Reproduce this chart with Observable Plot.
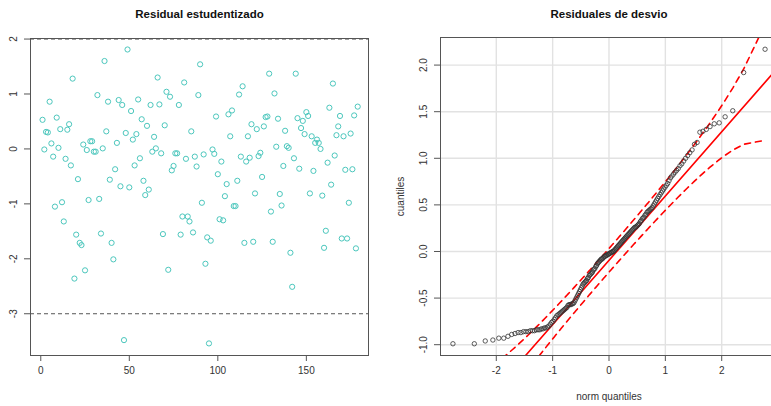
<!DOCTYPE html>
<html>
<head>
<meta charset="utf-8">
<script src="https://cdn.jsdelivr.net/npm/d3@7"></script>
<script src="https://cdn.jsdelivr.net/npm/@observablehq/plot@0.6"></script>
<style>
  html, body { margin: 0; padding: 0; background: #fff; }
  #fig { position: relative; width: 771px; height: 406px; overflow: hidden; background: #fff; }
  #izq { position: absolute; left: 0; top: 0; width: 385px; }
  #der { position: absolute; left: 385px; top: 0; width: 400px; }
  #fig svg { max-width: none !important; display: block; }
</style>
</head>
<body>
<div id="fig"><div id="izq"></div><div id="der"></div></div>
<script>
// Residuos estudentizados, en el orden de las observaciones (1..n)
const residualEstudentizado = [
  0.53, -0.01, 0.31, 0.30, 0.86, 0.10, -0.14, -1.05, 0.57, 0.02,
  0.36, -0.97, -1.32, -0.18, 0.35, 0.45, -0.30, 1.28, -2.36, -1.56,
  -0.55, -1.71, -1.75, 0.08, -2.21, -0.02, -0.93, 0.14, 0.14, -0.05,
  -0.05, 0.98, -0.91, -1.54, 0.01, 1.60, 0.32, 0.86, -0.56, -1.71,
  -2.01, -0.37, 0.11, 0.89, -0.68, 0.80, -3.48, 0.29, 1.81, -0.70,
  0.69,
  0.17, -0.30, 0.27, 0.90, -0.17, 0.54, -0.58, -0.84, 0.42, -0.74,
  0.80, -0.05, 0.22, 0.01, 1.30, 0.81, -0.08, -1.55, 0.43, 1.04,
  -2.20, 0.95, -0.39, -0.31, -0.08, -0.08, 0.80, -1.56, -1.23, 1.21,
  -0.18, -1.23, -1.32, 0.32, -1.52, -0.14, -0.32, 0.98, 1.54, -0.98,
  -0.10, -2.09, -1.61, -3.54, -1.67, -0.01, -0.09, 0.59, -0.46, -1.28,
  -0.23, -1.30, -0.86, -0.64,
  0.63, 0.23, 0.70, -1.04, -1.04, -0.58, 0.99, -0.14, 1.14, -1.71,
  -0.23, 0.23, -0.16, 0.45, -1.69, -0.81, 0.36, -0.13, -0.07, -0.51,
  0.41, 0.58, 0.59, 1.37, -1.14, -1.69, 1.01, 0.04, 0.55, -0.82,
  -1.03, -0.31, 0.33, 0.05, 0.02, -1.89, -2.51, -0.17, 1.37, 0.56,
  -0.36, 0.38, 0.51, 0.27, 0.67, 0.60, -0.81, 0.23, -0.40, 0.11,
  0.17, 0.11, 0.00,
  -0.85, -1.80, -1.49, -0.25, 0.75, -0.65, 1.19, -0.12, 0.25, 0.41,
  0.60, -1.63, 0.23, -0.38, -1.63, -0.98, 0.28, -0.37, 0.61, -1.81,
  0.77
];

// Residuos de desvío ordenados (cuantiles muestrales)
const residualesDesvio = [
  -0.99, -0.99, -0.96, -0.95, -0.93, -0.93, -0.91, -0.89, -0.88, -0.87,
  -0.87, -0.86, -0.86, -0.86, -0.85, -0.85, -0.85, -0.84, -0.84, -0.84,
  -0.83, -0.83, -0.82, -0.82, -0.81, -0.80, -0.78, -0.76, -0.75, -0.73,
  -0.71, -0.69, -0.68, -0.67, -0.66, -0.65, -0.64, -0.63, -0.62, -0.61,
  -0.60, -0.58, -0.57, -0.57, -0.57, -0.56, -0.56, -0.55, -0.53, -0.51,
  -0.49, -0.47, -0.45, -0.43, -0.41, -0.39, -0.37, -0.35, -0.34, -0.33,
  -0.32, -0.31, -0.29, -0.28, -0.26, -0.25, -0.24, -0.23, -0.22, -0.20,
  -0.19, -0.18, -0.16, -0.15, -0.13, -0.12, -0.11, -0.10, -0.09, -0.08,
  -0.08, -0.07, -0.06, -0.05, -0.05, -0.04, -0.04, -0.03, -0.03, -0.02,
  -0.02, -0.01, -0.01, 0.00, 0.00, 0.01, 0.02, 0.03, 0.04, 0.05,
  0.06, 0.07, 0.08, 0.09, 0.10, 0.11, 0.12, 0.13, 0.14, 0.15,
  0.16, 0.17, 0.18, 0.19, 0.20, 0.21, 0.22, 0.23, 0.24, 0.25,
  0.26, 0.26, 0.27, 0.28, 0.29, 0.30, 0.32, 0.33, 0.35, 0.36,
  0.37, 0.39, 0.40, 0.42, 0.43, 0.44, 0.45, 0.46, 0.47, 0.49,
  0.51, 0.53, 0.55, 0.57, 0.59, 0.61, 0.63, 0.65, 0.67, 0.69,
  0.71, 0.73, 0.76, 0.79, 0.81, 0.83, 0.85, 0.87, 0.89, 0.92,
  0.94, 0.97, 1.00, 1.03, 1.06, 1.09, 1.15, 1.17, 1.28, 1.29,
  1.31, 1.34, 1.37, 1.38, 1.445, 1.51, 1.92, 2.17
];

// Marcas de los ejes
const ticksIndice = [0, 50, 100, 150];
const ticksEstud = [-3, -2, -1, 0, 1, 2];
const lineasLimite = [-3, 2];
const ticksNormal = [-2, -1, 0, 1, 2];
const ticksDesvio = [-1, -0.5, 0, 0.5, 1, 1.5, 2];

// Recta de referencia del gráfico QQ y nivel de la banda de confianza
const rectaOrdenada = -0.095;
const rectaPendiente = 0.69;
const zConfianza = 1.96;

const fuente = "Liberation Sans, Arial, Helvetica, sans-serif";
const centrado = { textAnchor: "middle", lineAnchor: "middle" };

// Cuantil y densidad de la normal estándar
function qnorm(p) {
  const a = [-3.969683028665376e+01, 2.209460984245205e+02, -2.759285104469687e+02, 1.383577518672690e+02, -3.066479806614716e+01, 2.506628277459239e+00];
  const b = [-5.447609879822406e+01, 1.615858368580409e+02, -1.556989798598866e+02, 6.680131188771972e+01, -1.328068155288572e+01];
  const c = [-7.784894002430293e-03, -3.223964580411365e-01, -2.400758277161838e+00, -2.549732539343734e+00, 4.374664141464968e+00, 2.938163982698783e+00];
  const d = [7.784695709041462e-03, 3.224671290700398e-01, 2.445134137142996e+00, 3.754408661907416e+00];
  const pl = 0.02425, ph = 1 - pl;
  if (p < pl) {
    const q = Math.sqrt(-2 * Math.log(p));
    return (((((c[0]*q+c[1])*q+c[2])*q+c[3])*q+c[4])*q+c[5]) / ((((d[0]*q+d[1])*q+d[2])*q+d[3])*q+1);
  }
  if (p > ph) {
    const q = Math.sqrt(-2 * Math.log(1 - p));
    return -(((((c[0]*q+c[1])*q+c[2])*q+c[3])*q+c[4])*q+c[5]) / ((((d[0]*q+d[1])*q+d[2])*q+d[3])*q+1);
  }
  const q = p - 0.5, r = q * q;
  return (((((a[0]*r+a[1])*r+a[2])*r+a[3])*r+a[4])*r+a[5])*q / (((((b[0]*r+b[1])*r+b[2])*r+b[3])*r+b[4])*r+1);
}
const dnorm = z => Math.exp(-z * z / 2) / Math.sqrt(2 * Math.PI);

// ---- Panel izquierdo: residuos estudentizados vs índice ----
const panelIzq = Plot.plot({
  width: 385, height: 406,
  marginLeft: 30, marginRight: 17, marginTop: 38, marginBottom: 51,
  style: { fontFamily: fuente, fontSize: "10px", background: "white", overflow: "visible", maxWidth: "none" },
  x: { domain: [-5.8, 185.1] },
  y: { domain: [-3.76, 2.01] },
  marks: [
    Plot.ruleY(lineasLimite, { stroke: "#555", strokeWidth: 1, strokeDasharray: "4,3" }),
    Plot.dot(residualEstudentizado, { x: (d, i) => i + 1, y: d => d, r: 2.6, stroke: "#4cc7bd", strokeWidth: 1 }),
    Plot.frame({ stroke: "#555" }),
    Plot.axisX(ticksIndice, { tickSize: 6, tickPadding: 5, fontSize: 10, fill: "#333", stroke: "#555", label: null, tickFormat: d => String(d) }),
    Plot.axisY(ticksEstud, { tickSize: 6, fontSize: 10, stroke: "#555", label: null, tickFormat: () => "" }),
    Plot.text(ticksEstud, { y: d => d, frameAnchor: "left", dx: -17, rotate: -90, text: d => String(d), fontSize: 10, fill: "#333", ...centrado }),
    Plot.text(["Residual estudentizado"], { frameAnchor: "top", dy: -24, fontWeight: "bold", fontSize: 11.5, fill: "#111", ...centrado })
  ]
});
document.getElementById("izq").append(panelIzq);

// ---- Panel derecho: gráfico QQ de los residuos de desvío ----
const n = residualesDesvio.length;
const qq = residualesDesvio.map((y, i) => {
  const P = (i + 0.5) / n;
  const z = qnorm(P);
  const ajuste = rectaOrdenada + rectaPendiente * z;
  const se = (rectaPendiente / dnorm(z)) * Math.sqrt(P * (1 - P) / n);
  return { z, y, sup: ajuste + zConfianza * se, inf: ajuste - zConfianza * se };
});
const dominioZ = [-2.99, 2.99];

const panelDer = Plot.plot({
  width: 400, height: 406,
  marginLeft: 55, marginRight: 8, marginTop: 37, marginBottom: 51,
  style: { fontFamily: fuente, fontSize: "10px", background: "white", overflow: "visible", maxWidth: "none" },
  x: { domain: dominioZ },
  y: { domain: [-1.116, 2.296] },
  marks: [
    Plot.ruleX(ticksNormal, { stroke: "#e2e2e2", strokeWidth: 1.4 }),
    Plot.ruleY(ticksDesvio, { stroke: "#e2e2e2", strokeWidth: 1.4 }),
    Plot.line(dominioZ, { x: d => d, y: d => rectaOrdenada + rectaPendiente * d, stroke: "red", strokeWidth: 1.6, clip: true }),
    Plot.line(qq, { x: "z", y: "sup", stroke: "red", strokeWidth: 1.6, strokeDasharray: "6,5", clip: true }),
    Plot.line(qq, { x: "z", y: "inf", stroke: "red", strokeWidth: 1.6, strokeDasharray: "6,5", clip: true }),
    Plot.dot(qq, { x: "z", y: "y", r: 2.2, stroke: "#333", strokeWidth: 0.8 }),
    Plot.frame({ stroke: "#555" }),
    Plot.axisX(ticksNormal, { tickSize: 6, tickPadding: 5, fontSize: 10, fill: "#333", stroke: "#555", label: null, tickFormat: d => String(d) }),
    Plot.axisY(ticksDesvio, { tickSize: 6, fontSize: 10, stroke: "#555", label: null, tickFormat: () => "" }),
    Plot.text(ticksDesvio, { y: d => d, frameAnchor: "left", dx: -17, rotate: -90, text: d => d.toFixed(1), fontSize: 10, fill: "#333", ...centrado }),
    Plot.text(["cuantiles"], { frameAnchor: "left", dx: -40, rotate: -90, fontSize: 10, fill: "#333", ...centrado }),
    Plot.text(["norm quantiles"], { frameAnchor: "bottom", dy: 41, fontSize: 10, fill: "#333", ...centrado }),
    Plot.text(["Residuales de desvio"], { frameAnchor: "top", dy: -23, fontWeight: "bold", fontSize: 11.5, fill: "#111", ...centrado })
  ]
});
document.getElementById("der").append(panelDer);
</script>
</body>
</html>
